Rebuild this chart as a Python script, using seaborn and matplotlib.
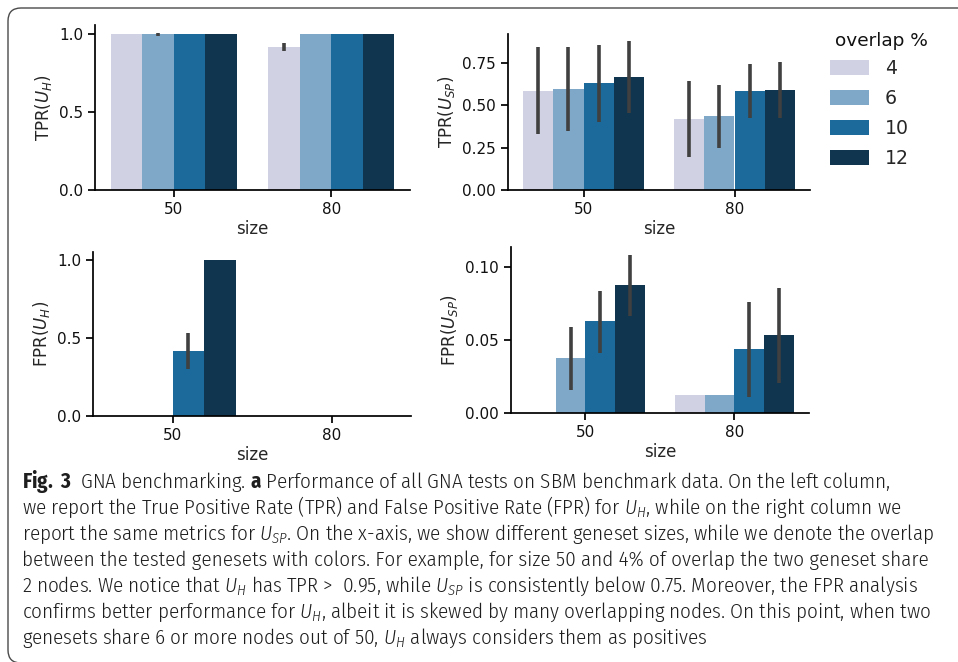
import matplotlib
matplotlib.use("Agg")
import matplotlib.pyplot as plt
import seaborn as sns
import pandas as pd
import numpy as np
from matplotlib.patches import FancyBboxPatch
from matplotlib import font_manager as fm

nan = np.nan

# ---------------- data ----------------
sizes = ["50", "80"]
overlaps = ["4", "6", "10", "12"]
colors = ["#d0d1e2", "#7fa7c7", "#1c6a9c", "#0f354f"]

# order: size 50 (overlap 4, 6, 10, 12), size 80 (overlap 4, 6, 10, 12)
tpr_uh = [1.0, 1.0, 1.0, 1.0, 0.917, 1.0, 1.0, 1.0]
tpr_uh_lo = [nan, 0.988, nan, nan, 0.891, nan, nan, nan]
tpr_uh_hi = [nan, 1.008, nan, nan, 0.940, nan, nan, nan]

tpr_usp = [0.583, 0.595, 0.630, 0.665, 0.418, 0.436, 0.583, 0.589]
tpr_usp_lo = [0.328, 0.349, 0.402, 0.452, 0.196, 0.249, 0.424, 0.422]
tpr_usp_hi = [0.840, 0.844, 0.854, 0.879, 0.642, 0.620, 0.740, 0.756]

fpr_uh = [0.0, 0.0, 0.417, 1.0, 0.0, 0.0, 0.0, 0.0]
fpr_uh_lo = [nan, nan, 0.301, nan, nan, nan, nan, nan]
fpr_uh_hi = [nan, nan, 0.534, nan, nan, nan, nan, nan]

fpr_usp = [0.0, 0.0377, 0.0630, 0.0877, 0.0123, 0.0123, 0.0438, 0.0534]
fpr_usp_lo = [nan, 0.0158, 0.0413, 0.0667, nan, nan, 0.0112, 0.0208]
fpr_usp_hi = [nan, 0.0591, 0.0836, 0.1084, nan, nan, 0.0763, 0.0854]

legend_title = "overlap %"
caption_lines = [
    r"$\mathbf{Fig.\ 3}$  GNA benchmarking. $\mathbf{a}$ Performance of all GNA tests on SBM benchmark data. On the left column,",
    r"we report the True Positive Rate (TPR) and False Positive Rate (FPR) for $U_H$, while on the right column we",
    r"report the same metrics for $U_{SP}$. On the x-axis, we show different geneset sizes, while we denote the overlap",
    r"between the tested genesets with colors. For example, for size 50 and 4% of overlap the two geneset share",
    r"2 nodes. We notice that $U_H$ has TPR >  0.95, while $U_{SP}$ is consistently below 0.75. Moreover, the FPR analysis",
    r"confirms better performance for $U_H$, albeit it is skewed by many overlapping nodes. On this point, when two",
    r"genesets share 6 or more nodes out of 50, $U_H$ always considers them as positives",
]
caption_right = [914, 915, 956, 953, 951, 956, 564]

# ---------------- style ----------------
sns.set_theme(style="ticks")
plt.rcParams["font.family"] = ["DejaVu Sans"]


def _find(name, stretch=None, weight=None):
    for f in fm.fontManager.ttflist:
        if f.name != name or f.style != "normal":
            continue
        if stretch is not None and f.stretch != stretch:
            continue
        if weight is not None and str(f.weight) != str(weight):
            continue
        return f
    return None


cap_font = ("DejaVu Sans", "normal", "normal")
for name, st, wt in [("Fira Sans Condensed", None, 300),
                     ("Fira Sans Condensed", None, 400),
                     ("Open Sans", "condensed", 300),
                     ("PT Sans Narrow", None, None),
                     ("Liberation Sans Narrow", None, None),
                     ("Roboto Condensed", None, None),
                     ("Open Sans", None, None)]:
    ent = _find(name, st, wt)
    if ent is not None:
        cap_font = (name, ent.stretch, str(wt) if wt else "normal")
        break
cf_name, cf_stretch, cf_weight = cap_font
plt.rcParams["mathtext.rm"] = f"{cf_name}:stretch={cf_stretch}:weight={cf_weight}"
plt.rcParams["mathtext.it"] = f"{cf_name}:style=italic:stretch={cf_stretch}:weight={cf_weight}"
plt.rcParams["mathtext.bf"] = f"{cf_name}:stretch={cf_stretch}:weight=bold"

W, H = 958, 662
fig = plt.figure(figsize=(W / 100, H / 100), dpi=100)
fig.patch.set_facecolor("white")


def rect(l, t, r, b):
    return [l / W, 1 - b / H, (r - l) / W, (b - t) / H]


def panel(pos, vals, lo, hi, ylabel, ylim, yticks, yticklabels, legend=False):
    ax = fig.add_axes(pos)
    df = pd.DataFrame({
        "size": [s for s in sizes for o in overlaps],
        "overlap": [o for s in sizes for o in overlaps],
        "value": vals,
    })
    sns.barplot(data=df, x="size", y="value", hue="overlap", order=sizes,
                hue_order=overlaps, palette=colors, errorbar=None,
                saturation=1, width=0.8, ax=ax, legend=legend,
                linewidth=0, edgecolor="none")
    for i, cont in enumerate(ax.containers):
        for p in cont:
            cx = p.get_x() + p.get_width() / 2
            j = int(round(cx))
            k = j * len(overlaps) + i
            if not np.isnan(lo[k]):
                ax.vlines(cx, lo[k], hi[k], color="#404040", lw=2.6, zorder=5)
    ax.set_xlim(-0.5, 1.5)
    ax.set_ylim(*ylim)
    ax.set_yticks(yticks)
    ax.set_yticklabels(yticklabels)
    ax.set_ylabel(ylabel, fontsize=12)
    ax.set_xlabel("size", fontsize=12, labelpad=2)
    ax.tick_params(labelsize=11, width=1.25, length=5, color="black",
                   labelcolor="#111111")
    for s in ["left", "bottom"]:
        ax.spines[s].set_linewidth(1.25)
        ax.spines[s].set_color("black")
    sns.despine(ax=ax)
    return ax


ax1 = panel(rect(95, 25, 410, 190), tpr_uh, tpr_uh_lo, tpr_uh_hi,
            r"TPR($U_H$)", (0, 1.058), [0, 0.5, 1.0], ["0.0", "0.5", "1.0"])
ax2 = panel(rect(508, 34, 810, 190), tpr_usp, tpr_usp_lo, tpr_usp_hi,
            r"TPR($U_{SP}$)", (0, 0.919), [0, 0.25, 0.5, 0.75],
            ["0.00", "0.25", "0.50", "0.75"], legend=True)
ax3 = panel(rect(93, 252, 411, 416), fpr_uh, fpr_uh_lo, fpr_uh_hi,
            r"FPR($U_H$)", (0, 1.05), [0, 0.5, 1.0], ["0.0", "0.5", "1.0"])
ax4 = panel(rect(511, 247, 809, 413), fpr_usp, fpr_usp_lo, fpr_usp_hi,
            r"FPR($U_{SP}$)", (0, 0.1137), [0, 0.05, 0.10],
            ["0.00", "0.05", "0.10"])

sns.move_legend(ax2, "upper left", bbox_to_anchor=(813 / W, 1 - 42 / H),
                bbox_transform=fig.transFigure, frameon=False, title=None,
                fontsize=13.6, handlelength=2.05, handleheight=0.8,
                labelspacing=0.58, handletextpad=0.85)
fig.text(835 / W, 1 - 46 / H, legend_title, fontsize=13.3, ha="left",
         va="baseline", color="#111111")

# caption
cap_prop = dict(family=[cf_name, "DejaVu Sans"], stretch=cf_stretch,
                weight=cf_weight)
texts = []
for n, line in enumerate(caption_lines):
    t = fig.text(22 / W, 1 - (488 + 26 * n) / H, line, ha="left",
                 va="baseline", fontsize=15, color="#1e1e1e",
                 math_fontfamily="custom", **cap_prop)
    texts.append(t)
renderer = fig.canvas.get_renderer()
measured = sum(t.get_window_extent(renderer).width for t in texts)
target = sum(r - 22 for r in caption_right)
size = min(15 * target / measured, 16)
for t in texts:
    t.set_fontsize(size)

# frame (rounded box running off the right and bottom edges)
r = 13 / W
box = FancyBboxPatch((8 / W, -1 / H), 1.5, (H - 7) / H,
                     boxstyle=f"round,pad=0,rounding_size={r}",
                     mutation_aspect=W / H, transform=fig.transFigure,
                     fill=False, ec="#4a4a4a", lw=1.0)
fig.add_artist(box)

fig.savefig("out.png", dpi=100)
